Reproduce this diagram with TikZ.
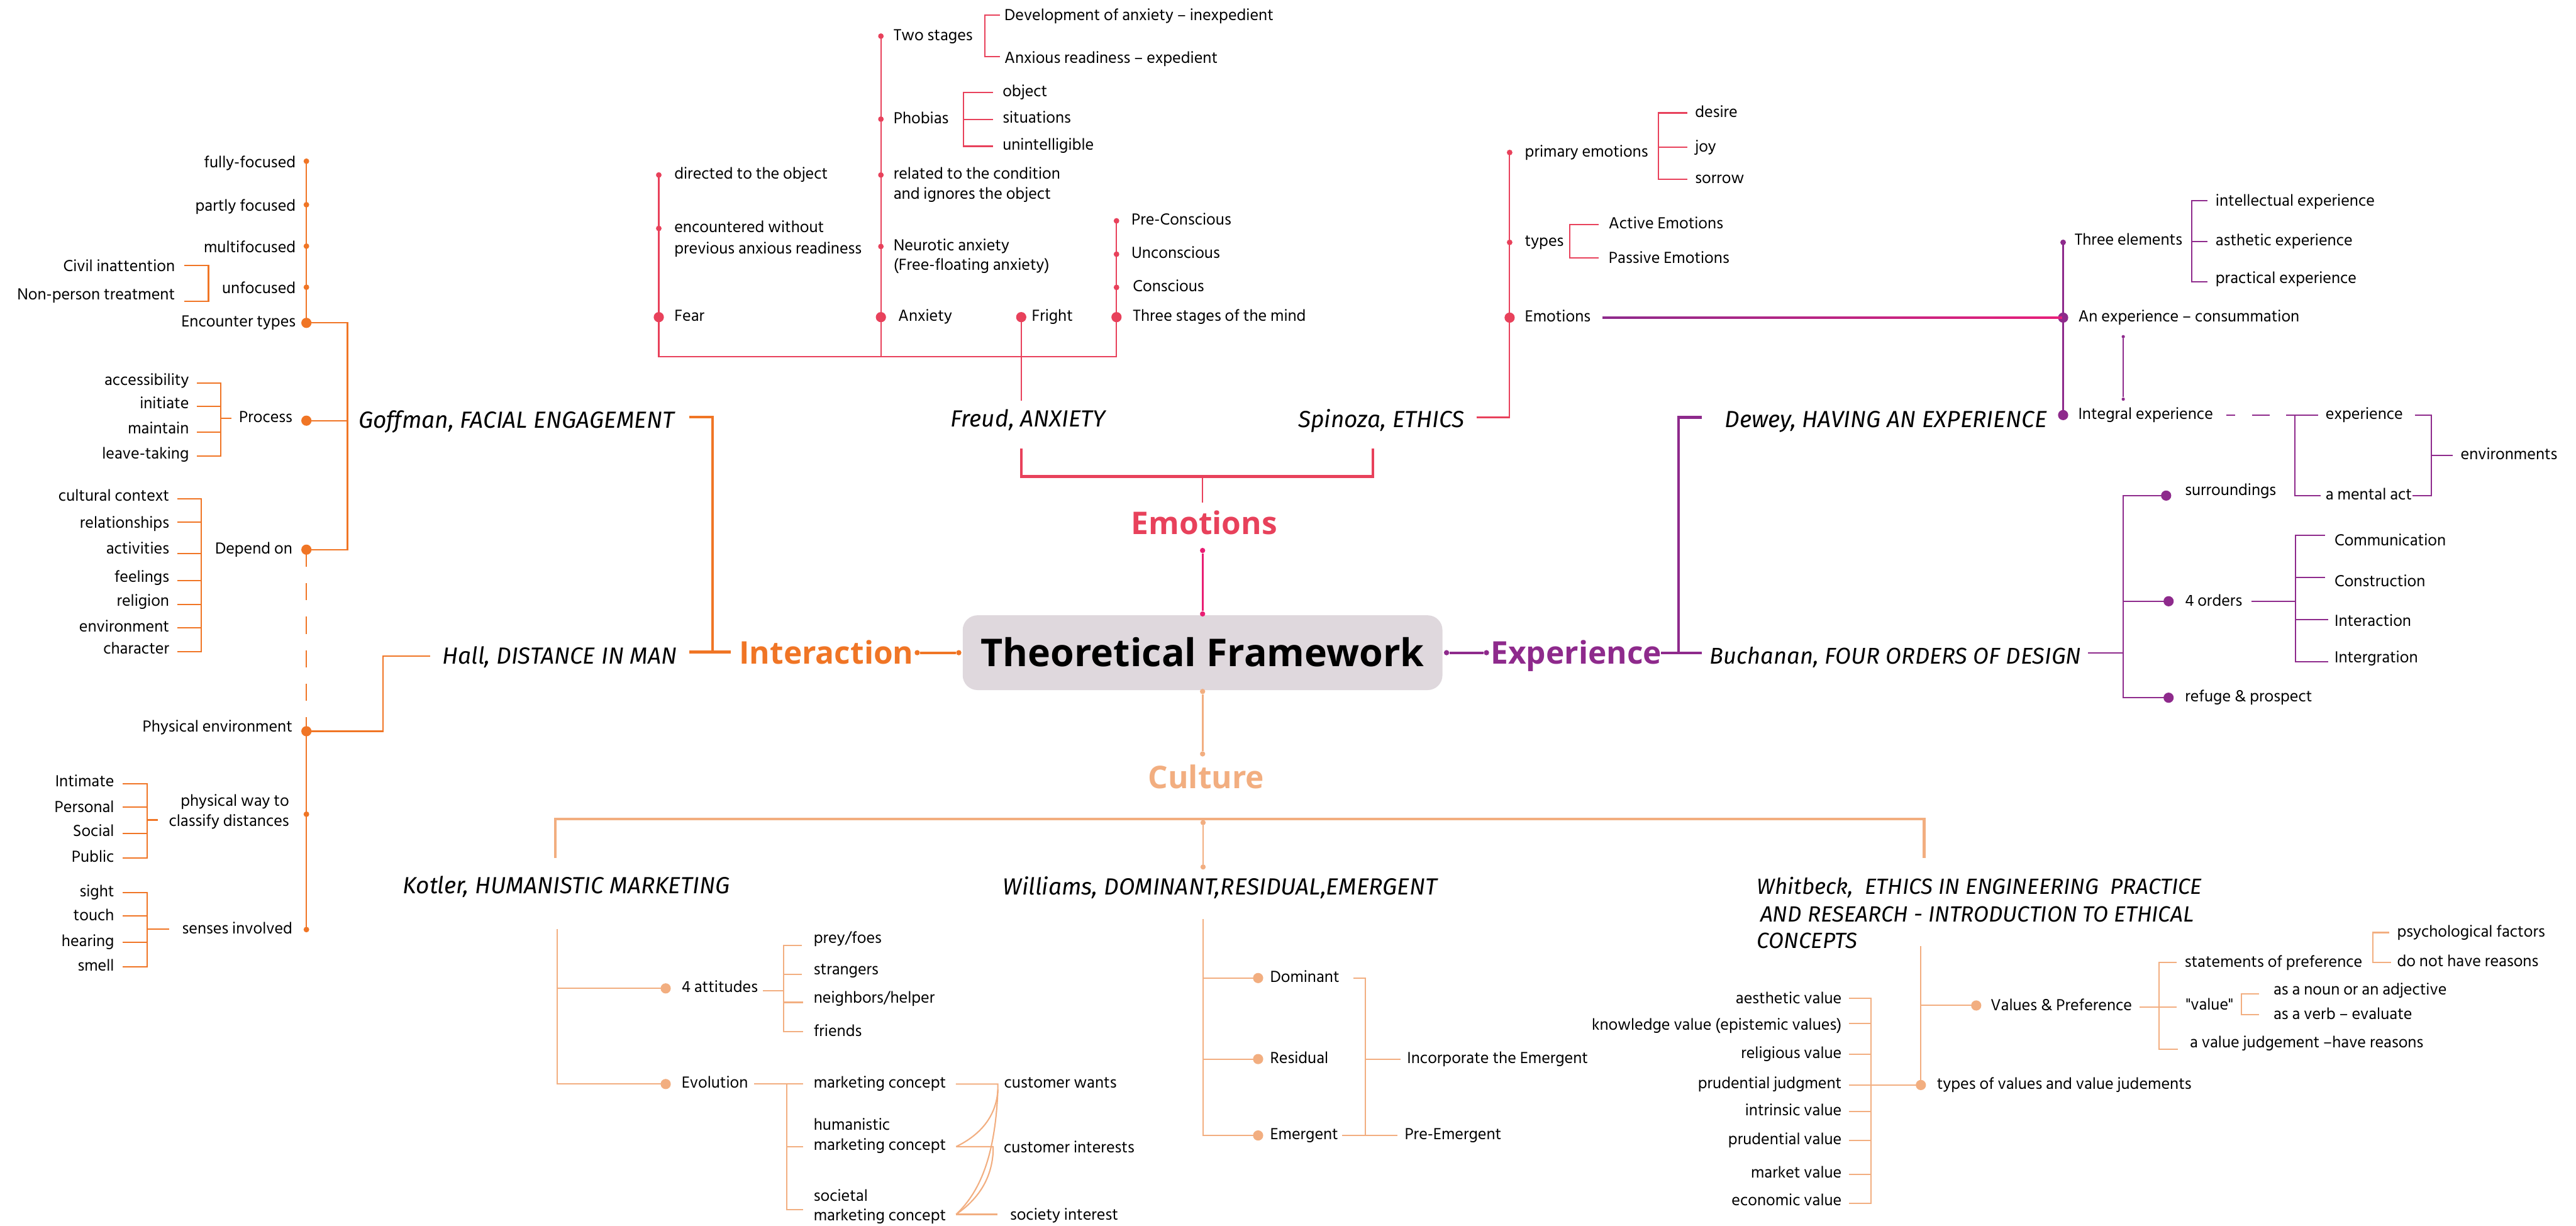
\documentclass[tikz,border=0pt]{standalone}
\usepackage{fontspec}
\newfontfamily\lblfont{Hind Siliguri}
\newfontfamily\ttlfont{Fira Sans}
\newfontfamily\hdfont{Open Sans}
\definecolor{cInt}{HTML}{F07525}
\definecolor{cEmo}{HTML}{E8415B}
\definecolor{cEmoLink}{HTML}{E91E73}
\definecolor{cExp}{HTML}{8E2A8C}
\definecolor{cExpPink}{HTML}{E8207A}
\definecolor{cCul}{HTML}{F2AE80}
\definecolor{cBox}{HTML}{DFD8DD}
\begin{document}
\begin{tikzpicture}[x=1pt,y=-1pt,
  lbl/.style={font=\lblfont\fontsize{10}{11}\selectfont, inner sep=0pt, outer sep=0pt, text height=7pt, text depth=1.9pt},
  le/.style={lbl, anchor=west},
  lw/.style={lbl, anchor=east},
  ttl/.style={font=\ttlfont\itshape\fontsize{14.2}{16}\selectfont, inner sep=0pt, text height=9.8pt, text depth=0pt, anchor=west},
  ttls/.style={ttl, font=\ttlfont\itshape\fontsize{13.4}{15}\selectfont, text height=9.2pt},
  hd/.style={font=\hdfont\bfseries\fontsize{19}{22}\selectfont, inner sep=0pt, text height=13.6pt, text depth=0pt},
  dS/.style={circle, fill=#1, inner sep=0pt, minimum size=3.4pt},
  dB/.style={circle, fill=#1, inner sep=0pt, minimum size=6.2pt},
  dT/.style={circle, fill=#1, inner sep=0pt, minimum size=3.2pt},
  ln/.style={line width=0.8pt},
  lk/.style={line width=1.6pt},
]
\fill[white] (0,0) rectangle (1568,746);
\useasboundingbox (0,0) rectangle (1568,746);

% ================= centre =================
\node[fill=cBox, rounded corners=9pt, minimum width=292pt, minimum height=45.5pt, inner sep=0pt,
      font=\hdfont\bfseries\fontsize{23.3}{28}\selectfont, text height=17pt, text depth=0pt] (tf) at (732,397.2) {Theoretical Framework};
\node[hd, text=cEmo] (emo) at (733,318.5) {Emotions};
\node[hd, text=cInt, anchor=west] (int) at (449.8,397.2) {Interaction};
\node[hd, text=cExp, anchor=west] (exp) at (907.2,397.2) {Experience};
\node[hd, text=cCul] (cul) at (734.2,473.2) {Culture};

\node[dT=cEmoLink] (elT) at (732,335) {};
\node[dT=cEmoLink] (elB) at (732,373.6) {};
\draw[line width=1.1pt, cEmoLink] (elT) -- (elB);
\node[dT=cInt] (ilL) at (558.3,397.2) {};
\node[dT=cInt] (ilR) at (583.6,397.2) {};
\draw[line width=1.5pt, cInt] (ilL) -- (ilR);
\node[dT=cExp] (xlL) at (880.5,397.2) {};
\node[dT=cExp] (xlR) at (904.8,397.2) {};
\draw[line width=1.5pt, cExp] (xlL) -- (xlR);
\node[dT=cCul] (clT) at (732,420.8) {};
\node[dT=cCul] (clB) at (732,458.8) {};
\draw[line width=1.1pt, cCul] (clT) -- (clB);

% ================= Emotions =================
\coordinate (ebL) at (621.6,273);
\coordinate (ebR) at (835.7,273);
\coordinate (ebM) at (732,290);
\coordinate (emoTop) at (732,306);
\draw[lk, cEmo] (ebL) |- (ebR |- ebM) -- (ebR);
\draw[ln, cEmo] (ebM) -- (emoTop);

% --- Freud
\node[ttl] (freud) at (578.6,255) {Freud, ANXIETY};
\coordinate (frTop) at (621.6,244);
\node[dS=cEmo] (dirD) at (401,106.5) {};
\node[dS=cEmo] (encD) at (401,139) {};
\node[dB=cEmo] (fearD) at (401,193) {};
\node[dS=cEmo] (twoD) at (536.2,22) {};
\node[dS=cEmo] (phoD) at (536.2,72.5) {};
\node[dS=cEmo] (relD) at (536.2,106.5) {};
\node[dS=cEmo] (neuD) at (536.2,150) {};
\node[dB=cEmo] (anxD) at (536.2,193) {};
\node[dB=cEmo] (friD) at (621.6,193) {};
\node[dS=cEmo] (preD) at (679.6,134.4) {};
\node[dS=cEmo] (uncD) at (679.6,154.7) {};
\node[dS=cEmo] (conD) at (679.6,174.9) {};
\node[dB=cEmo] (tsmD) at (679.6,193) {};
\coordinate (hFL) at (401,217);
\coordinate (hFR) at (679.6,217);
\draw[ln, cEmo] (dirD.center) -- (hFL) -- (hFR) -- (preD.center);
\draw[ln, cEmo] (twoD.center) -- (twoD.center |- hFL);
\draw[ln, cEmo] (friD.center) -- (frTop);

\node[le] (dirT) at (410.5,106.5) {directed to the object};
\node[le] (encT1) at (410.5,139) {encountered without};
\node[le] (encT2) at (410.5,151.8) {previous anxious readiness};
\node[le] (fearT) at (410.5,193) {Fear};
\node[le] (twoT) at (543.9,22) {Two stages};
\node[le] (phoT) at (543.9,72.8) {Phobias};
\node[le] (relT1) at (543.9,106.5) {related to the condition};
\node[le] (relT2) at (543.9,118.5) {and ignores the object};
\node[le] (neuT1) at (543.9,150) {Neurotic anxiety};
\node[le] (neuT2) at (543.9,162) {(Free-floating anxiety)};
\node[le] (anxT) at (546.7,193) {Anxiety};
\node[le] (friT) at (628,193) {Fright};
\node[le] (preT) at (688.7,134.4) {Pre-Conscious};
\node[le] (uncT) at (688.7,154.7) {Unconscious};
\node[le] (conT) at (689.6,174.9) {Conscious};
\node[le] (tsmT) at (689.6,193) {Three stages of the mind};

\draw[ln, cEmo] (608.6,9.3) -- (599.5,9.3) -- (599.5,34.3) -- (608.6,34.3);
\node[le] (devT) at (611.4,10) {Development of anxiety – inexpedient};
\node[le] (arT) at (611.4,36) {Anxious readiness – expedient};
\draw[ln, cEmo] (604.4,56.4) -- (586.4,56.4) -- (586.4,89) -- (604.4,89);
\draw[ln, cEmo] (586.4,72.8) -- (604.4,72.8);
\node[le] (objT) at (610.3,56.4) {object};
\node[le] (sitT) at (610.3,72.4) {situations};
\node[le] (uniT) at (610.3,88.6) {unintelligible};

% --- Spinoza
\node[ttl] (spi) at (790,255.3) {Spinoza, ETHICS};
\coordinate (spiR) at (898.7,254);
\node[dS=cEmo] (peD) at (918.9,92.8) {};
\node[dS=cEmo] (tyD) at (918.9,147.5) {};
\node[dB=cEmo] (emD) at (918.9,193.3) {};
\draw[ln, cEmo] (spiR) -- (spiR -| peD) -- (peD.center);
\node[le] (peT) at (928.2,92.8) {primary emotions};
\node[le] (tyT) at (928.2,147.5) {types};
\node[le] (emT) at (928.2,193.3) {Emotions};
\draw[ln, cEmo] (1027,68.7) -- (1009.4,68.7) -- (1009.4,109) -- (1027,109);
\draw[ln, cEmo] (1009.4,89.5) -- (1027,89.5);
\node[le] (desT) at (1031.8,69) {desire};
\node[le] (joyT) at (1031.8,90) {joy};
\node[le] (sorT) at (1031.8,109) {sorrow};
\draw[ln, cEmo] (973,136.6) -- (955.4,136.6) -- (955.4,156.8) -- (973,156.8);
\node[le] (actT) at (979.2,136.6) {Active Emotions};
\node[le] (pasT) at (979.2,157.5) {Passive Emotions};

% ================= Experience =================
\node[ttl] (dew) at (1049.7,255.3) {Dewey, HAVING AN EXPERIENCE};
\node[ttl, font=\ttlfont\itshape\fontsize{13.9}{16}\selectfont] (buc) at (1040.6,399.3) {Buchanan, FOUR ORDERS OF DESIGN};
\draw[lk, cExp] (1036,254) -- (1021.7,254) -- (1021.7,397.2);
\draw[lk, cExp] (1011,397.2) -- (1036,397.2);

% --- Dewey
\node[dS=cExp] (teD) at (1255.8,147.5) {};
\node[dB=cExp] (aeD) at (1255.8,193.3) {};
\node[dB=cExp] (ieD) at (1255.8,252.6) {};
\shade[left color=cExp, right color=cExpPink] (975.4,192.7) rectangle (1255.8,193.9);
\draw[ln, cExp] (teD.center) -- (ieD.center);
\node[le] (teT) at (1262.8,146.5) {Three elements};
\node[le] (aeT) at (1265,193.3) {An experience – consummation};
\node[le] (ieT) at (1265,252.6) {Integral experience};
\draw[ln, cExp] (1343.5,122) -- (1334,122) -- (1334,171.4) -- (1343.5,171.4);
\draw[ln, cExp] (1334,146.9) -- (1343.5,146.9);
\node[le] (ixT) at (1348.6,122.8) {intellectual experience};
\node[le] (asT) at (1348.6,146.9) {asthetic experience};
\node[le] (prT) at (1348.6,170) {practical experience};
\node[circle, fill=cExp, inner sep=0pt, minimum size=2pt] (upT) at (1292.4,204.9) {};
\node[circle, fill=cExp, inner sep=0pt, minimum size=2pt] (upB) at (1292.4,242.9) {};
\draw[line width=0.6pt, cExp] (upT) -- (upB);
\coordinate (dashA) at (1355,252.6);
\coordinate (dashB) at (1391.6,252.6);
\draw[ln, cExp, dash pattern=on 5.4pt off 10.3pt on 11pt off 10.3pt] (dashA) -- (dashB);
\draw[ln, cExp] (dashB) -- (1411.2,252.6);
\draw[ln, cExp] (1397,252.6) -- (1397,301.6) -- (1412.4,301.6);
\node[le] (exT) at (1415.6,252.6) {experience};
\node[le] (maT) at (1415.6,301.6) {a mental act};
\draw[ln, cExp] (1469.8,252.6) -- (1479.9,252.6) -- (1479.9,301.6) -- (1468.5,301.6);
\draw[ln, cExp] (1479.9,277) -- (1493,277);
\node[le] (envT) at (1497.8,277) {environments};

% --- Buchanan
\coordinate (bucR) at (1271,397.2);
\node[dB=cExp] (surD) at (1318.5,301.6) {};
\node[dB=cExp] (ordD) at (1320,365.9) {};
\node[dB=cExp] (refD) at (1320,424.6) {};
\draw[ln, cExp] (bucR) -- (1292.4,397.2);
\draw[ln, cExp] (surD.center) -- (1292.4,301.6) -- (1292.4,424.6) -- (refD.center);
\draw[ln, cExp] (1292.4,365.9) -- (ordD.center);
\node[le] (surT) at (1330,299) {surroundings};
\node[le] (ordT) at (1330,366.2) {4 orders};
\node[le] (refT) at (1330,424.5) {refuge \& prospect};
\draw[ln, cExp] (1370.3,365.9) -- (1397.3,365.9);
\draw[ln, cExp] (1415.2,325.8) -- (1397.3,325.8) -- (1397.3,402.8) -- (1417,402.8);
\draw[ln, cExp] (1397.3,351.5) -- (1415.2,351.5);
\draw[ln, cExp] (1397.3,377.2) -- (1417,377.2);
\node[le] (comT) at (1421,329.5) {Communication};
\node[le] (cnsT) at (1421,354.5) {Construction};
\node[le] (intT) at (1421,378.6) {Interaction};
\node[le] (itgT) at (1421,400.9) {Intergration};

% ================= Interaction =================
\node[ttl] (gof) at (218,255.5) {Goffman, FACIAL ENGAGEMENT};
\node[ttl] (hall) at (269,399.2) {Hall, DISTANCE IN MAN};
\draw[lk, cInt] (419.5,253.9) -- (433.7,253.9) -- (433.7,396.8);
\draw[lk, cInt] (419.6,396.8) -- (445,396.8);

% --- Goffman
\node[dS=cInt] (ffD) at (186.5,98.1) {};
\node[dS=cInt] (pfD) at (186.5,124.6) {};
\node[dS=cInt] (mfD) at (186.5,149.8) {};
\node[dS=cInt] (ufD) at (186.5,174.8) {};
\node[dB=cInt] (etD) at (186.5,196.5) {};
\node[dB=cInt] (prcD) at (186.5,256) {};
\node[dB=cInt] (depD) at (186.5,334.5) {};
\node[dB=cInt] (pheD) at (186.5,445) {};
\node[dS=cInt] (pwD) at (186.5,495.5) {};
\node[dS=cInt] (siD) at (186.5,565.7) {};
\draw[ln, cInt] (ffD.center) -- (etD.center) -- (211.5,196.5) -- (211.5,334.5) -- (depD.center);
\draw[ln, cInt] (prcD.center) -- (211.5,256);
\draw[ln, cInt, dash pattern=on 10.4pt off 10pt] (depD.center) -- (pheD.center);
\draw[ln, cInt] (pheD.center) -- (siD.center);
\draw[ln, cInt] (pheD.center) -- (233.3,445) -- (233.3,399.2) -- (261.7,399.2);

\node[lw] (ffT) at (180,99.5) {fully-focused};
\node[lw] (pfT) at (180,126) {partly focused};
\node[lw] (mfT) at (180,151) {multifocused};
\node[lw] (ufT) at (180,176) {unfocused};
\node[lw] (etT) at (180,196.5) {Encounter types};
\node[lw] (ciT) at (106.5,162.6) {Civil inattention};
\node[lw] (npT) at (106.5,179.8) {Non-person treatment};
\draw[ln, cInt] (112,161.6) -- (126.9,161.6) -- (126.9,183.5) -- (112,183.5);

\node[lw] (prcT) at (178,254.4) {Process};
\node[lw] (acT) at (115,232) {accessibility};
\node[lw] (inT) at (115,246.1) {initiate};
\node[lw] (mtT) at (115,261.3) {maintain};
\node[lw] (ltT) at (115,276.6) {leave-taking};
\draw[ln, cInt] (119.8,233) -- (134.3,233) -- (134.3,277.6) -- (119.8,277.6);
\draw[ln, cInt] (119.8,247.2) -- (134.3,247.2);
\draw[ln, cInt] (119.8,263) -- (134.3,263);
\draw[ln, cInt] (134.3,254.4) -- (141,254.4);

\node[lw] (depT) at (178,334.5) {Depend on};
\node[lw] (ccT) at (103,302.5) {cultural context};
\node[lw] (rlT) at (103,318.7) {relationships};
\node[lw] (avT) at (103,334.5) {activities};
\node[lw] (fgT) at (103,351.8) {feelings};
\node[lw] (rgT) at (103,366.4) {religion};
\node[lw] (evT) at (103,382) {environment};
\node[lw] (chT) at (103,395.4) {character};
\draw[ln, cInt] (107.9,303.7) -- (122.6,303.7) -- (122.6,396.5) -- (107.9,396.5);
\draw[ln, cInt] (107.9,317.9) -- (122.6,317.9);
\draw[ln, cInt] (107.9,337) -- (122.6,337);
\draw[ln, cInt] (107.9,353.4) -- (122.6,353.4);
\draw[ln, cInt] (107.9,368) -- (122.6,368);
\draw[ln, cInt] (107.9,382) -- (122.6,382);

% --- Hall
\node[lw] (pheT) at (178,443) {Physical environment};
\node[lw] (pwT1) at (176,488.2) {physical way to};
\node[lw] (pwT2) at (176,500.4) {classify distances};
\node[lw] (imT) at (69.5,476.2) {Intimate};
\node[lw] (peT2) at (69.5,491.8) {Personal};
\node[lw] (soT) at (69.5,506.4) {Social};
\node[lw] (puT) at (69.5,522) {Public};
\draw[ln, cInt] (74.7,477) -- (89.7,477) -- (89.7,522) -- (74.7,522);
\draw[ln, cInt] (74.7,491.2) -- (89.7,491.2);
\draw[ln, cInt] (74.7,507.1) -- (89.7,507.1);
\draw[ln, cInt] (89.7,499) -- (96,499);
\node[lw] (siT) at (178,565.7) {senses involved};
\node[lw] (sgT) at (69.5,543.3) {sight};
\node[lw] (toT) at (69.5,557.5) {touch};
\node[lw] (heT) at (69.5,573.4) {hearing};
\node[lw] (smT) at (69.5,588.3) {smell};
\draw[ln, cInt] (74.7,543.3) -- (89.7,543.3) -- (89.7,588.3) -- (74.7,588.3);
\draw[ln, cInt] (74.7,557.5) -- (89.7,557.5);
\draw[ln, cInt] (74.7,573.4) -- (89.7,573.4);
\draw[ln, cInt] (89.7,565.3) -- (103,565.3);

% ================= Culture =================
\draw[lk, cCul] (338,522) -- (338,498.4) -- (1171.2,498.4) -- (1171.2,522);
\node[dT=cCul] (wlT) at (732.3,500.6) {};
\node[dT=cCul] (wlB) at (732.3,527.6) {};
\draw[line width=1.1pt, cCul] (wlT) -- (wlB);

% --- Kotler
\node[ttl] (kot) at (245,539) {Kotler, HUMANISTIC MARKETING};
\node[dB=cCul] (atD) at (405.2,601.5) {};
\node[dB=cCul] (evD) at (405.2,659.7) {};
\draw[ln, cCul] (339,565.4) -- (339,659.7) -- (evD.center);
\draw[ln, cCul] (339,601.5) -- (atD.center);
\node[le] (atT) at (414.9,601.5) {4 attitudes};
\node[le] (evlT) at (414.9,659.7) {Evolution};
\draw[ln, cCul] (464.5,602.8) -- (476.9,602.8);
\draw[ln, cCul] (488,575.3) -- (476.9,575.3) -- (476.9,627.8) -- (488.7,627.8);
\draw[ln, cCul] (476.9,593) -- (488,593);
\draw[ln, cCul] (476.9,610) -- (488.7,610);
\node[le] (pfoT) at (495.3,571.5) {prey/foes};
\node[le] (stT) at (495.3,590.8) {strangers};
\node[le] (nbT) at (495.3,607.8) {neighbors/helper};
\node[le] (frT) at (495.3,628) {friends};
\draw[ln, cCul] (459,659.7) -- (488.7,659.7);
\draw[ln, cCul] (479,659.7) -- (479,736.2) -- (488.7,736.2);
\draw[ln, cCul] (479,697.8) -- (488.7,697.8);
\node[le] (mcT) at (495.3,659.7) {marketing concept};
\node[le] (hmT1) at (495.3,685) {humanistic};
\node[le] (hmT2) at (495.3,697.5) {marketing concept};
\node[le] (scT1) at (495.3,728.3) {societal};
\node[le] (scT2) at (495.3,740.3) {marketing concept};
\coordinate (mcE) at (581.8,659.7);
\coordinate (cwC) at (607.4,659.7);
\coordinate (hmE) at (582,697.8);
\coordinate (ciC) at (604.5,697.8);
\coordinate (scE) at (582,739);
\draw[ln, cCul] (mcE) -- (cwC) -- (607.4,663) .. controls (606.5,680) and (596,691) .. (hmE);
\draw[ln, cCul] (607.4,663) .. controls (606,700) and (598,724) .. (scE);
\draw[ln, cCul] (hmE) -- (ciC) -- (604.5,701) .. controls (603.5,718) and (595,730) .. (scE);
\draw[ln, cCul] (scE) -- (607,739);
\node[le] (cwT) at (611.2,659.7) {customer wants};
\node[le] (cinT) at (611,699) {customer interests};
\node[le] (siT2) at (614.8,740) {society interest};

% --- Williams
\node[ttl] (wil) at (610.3,539.7) {Williams, DOMINANT,RESIDUAL,EMERGENT};
\node[dB=cCul] (doD) at (765.8,595.2) {};
\node[dB=cCul] (reD) at (765.8,644.5) {};
\node[dB=cCul] (emgD) at (765.8,691) {};
\draw[ln, cCul] (732.3,559.4) -- (732.3,691) -- (emgD.center);
\draw[ln, cCul] (732.3,595.2) -- (doD.center);
\draw[ln, cCul] (732.3,644.5) -- (reD.center);
\node[le] (doT) at (773.1,595.2) {Dominant};
\node[le] (reT) at (773.1,644.5) {Residual};
\node[le] (emgT) at (773.1,691) {Emergent};
\draw[ln, cCul] (823.8,595.2) -- (831.2,595.2) -- (831.2,691);
\draw[ln, cCul] (831.2,644.5) -- (852.7,644.5);
\draw[ln, cCul] (817,691) -- (850.5,691);
\node[le] (icT) at (856.5,644.5) {Incorporate the Emergent};
\node[le] (pemT) at (855,691) {Pre-Emergent};

% --- Whitbeck
\node[ttls] (wh1) at (1069.3,539.7) {Whitbeck,\ \ ETHICS IN ENGINEERING\ \ PRACTICE};
\node[ttls] (wh2) at (1071.3,556.3) {AND RESEARCH - INTRODUCTION TO ETHICAL};
\node[ttls] (wh3) at (1069.3,572.3) {CONCEPTS};
\node[dB=cCul] (vpD) at (1202.9,611.9) {};
\node[dB=cCul] (tvD) at (1169.2,660.3) {};
\draw[ln, cCul] (1169.2,575.8) -- (tvD.center);
\draw[ln, cCul] (1169.2,611.9) -- (vpD.center);
\node[le] (vpT) at (1211.6,612.5) {Values \& Preference};
\node[le] (tvT) at (1179,660.3) {types of values and value judements};
\draw[ln, cCul] (1125.4,607.6) -- (1138.7,607.6) -- (1138.7,732.2) -- (1125.4,732.2);
\draw[ln, cCul] (1125.4,623) -- (1138.7,623);
\draw[ln, cCul] (1125.4,641.6) -- (1138.7,641.6);
\draw[ln, cCul] (1125.4,660.3) -- (tvD.center);
\draw[ln, cCul] (1125.4,676.4) -- (1138.7,676.4);
\draw[ln, cCul] (1125.4,693.9) -- (1138.7,693.9);
\draw[ln, cCul] (1125.4,714.7) -- (1138.7,714.7);
\node[lw] (avT2) at (1121,608.3) {aesthetic value};
\node[lw] (kvT) at (1121,624.3) {knowledge value (epistemic values)};
\node[lw] (rvT) at (1121,641.6) {religious value};
\node[lw] (pjT) at (1121,659.8) {prudential judgment};
\node[lw] (ivT) at (1121,676.4) {intrinsic value};
\node[lw] (pvT) at (1121,693.9) {prudential value};
\node[lw] (mvT) at (1121,714.2) {market value};
\node[lw] (evT2) at (1121,731) {economic value};
\draw[ln, cCul] (1302.4,613) -- (1325,613);
\draw[ln, cCul] (1325,585.7) -- (1314.2,585.7) -- (1314.2,638.5) -- (1325.6,638.5);
\node[le] (spT) at (1329.8,586) {statements of preference};
\node[le] (vaT) at (1330.5,612.2) {"value"};
\node[le] (vjT) at (1333,635.1) {a value judgement –have reasons};
\draw[ln, cCul] (1454.4,567.5) -- (1444.2,567.5) -- (1444.2,585.7) -- (1455.6,585.7);
\node[le] (psT) at (1459.1,567.5) {psychological factors};
\node[le] (dnT) at (1459.1,585.7) {do not have reasons};
\draw[ln, cCul] (1374.9,605) -- (1364.3,605) -- (1364.3,617.4) -- (1374.9,617.4);
\node[le] (naT) at (1383.9,602.9) {as a noun or an adjective};
\node[le] (vbT) at (1383.9,617.9) {as a verb – evaluate};
\end{tikzpicture}
\end{document}
